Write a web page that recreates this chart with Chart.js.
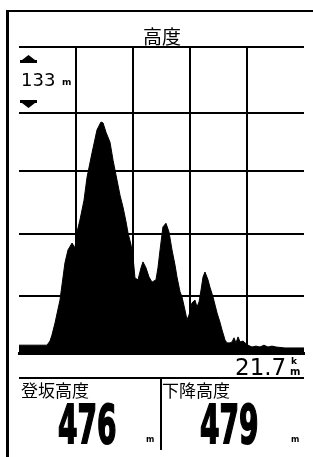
<!DOCTYPE html>
<html>
<head>
<meta charset="utf-8">
<script src="https://cdn.jsdelivr.net/npm/chart.js@4.4.1/dist/chart.umd.min.js"></script>
<style>
  body { margin: 0; background: #fff; }
  #wrap { position: relative; width: 313px; height: 457px; overflow: hidden; background: #fff; }
  #wrap canvas { position: absolute; left: 0; top: 0; }
  .ln { position: absolute; background: #000; }
  .t { position: absolute; line-height: 1; color: #000; white-space: nowrap; }
  .cjk { font-family: "Noto Sans CJK JP", sans-serif; }
  .dv { font-family: "DejaVu Sans", sans-serif; }
  .big { font-family: "DejaVu Sans", sans-serif; font-weight: bold; font-size: 54px;
         -webkit-text-stroke: 2px #000;
         transform: scaleX(0.52); transform-origin: 0 0; }
  .unit { font-family: "DejaVu Sans", sans-serif; font-weight: bold; }
</style>
</head>
<body>
<div id="wrap">
  <canvas id="elevChart" width="313" height="457"></canvas>

  <!-- device frame and cell lines -->
  <div class="ln" style="left:6px;top:10px;width:3px;height:447px"></div>
  <div class="ln" style="left:6px;top:10px;width:307px;height:2px"></div>
  <div class="ln" style="left:19px;top:377px;width:285px;height:2px"></div>
  <div class="ln" style="left:160px;top:377px;width:2px;height:73px"></div>

  <div class="t cjk" id="title" style="left:143px;top:26px;font-size:19px"></div>
  <div class="t dv" id="scaleVal" style="left:21px;top:71px;font-size:18px"></div>
  <div class="t unit" style="left:62px;top:78px;font-size:9px">m</div>

  <div class="t dv" id="distVal" style="left:235px;top:356px;font-size:23px"></div>
  <div class="t unit" style="left:291px;top:357px;font-size:9px">k</div>
  <div class="t unit" style="left:290px;top:367px;font-size:10px">m</div>

  <div class="t cjk" id="ascLabel" style="left:21px;top:381px;font-size:17px"></div>
  <div class="t cjk" id="descLabel" style="left:162px;top:381px;font-size:17px"></div>
  <div class="t big" id="ascVal" style="left:58px;top:398px"></div>
  <div class="t big" id="descVal" style="left:200px;top:398px"></div>
  <div class="t unit" style="left:146px;top:436px;font-size:8px">m</div>
  <div class="t unit" style="left:291px;top:436px;font-size:8px">m</div>
</div>

<script>
// elevation profile (km along route, metres above start level)
const distKm = [0.00, 2.13, 2.36, 2.51, 2.74, 3.12, 3.50, 3.73, 4.04, 4.26, 4.42, 4.64, 4.95, 5.18, 5.56,
  5.94, 6.24, 6.40, 6.62, 6.93, 7.16, 7.46, 7.69, 7.92, 8.15, 8.30, 8.53, 8.68, 8.83, 9.06, 9.29, 9.44,
  9.67, 9.90, 10.13, 10.43, 10.58, 10.74, 10.96, 11.19, 11.42, 11.65, 11.88, 12.03, 12.26, 12.41, 12.64,
  12.79, 12.95, 13.17, 13.40, 13.55, 13.71, 13.86, 14.01, 14.16, 14.39, 14.54, 14.77, 15.08, 15.30,
  15.46, 15.69, 15.84, 16.07, 16.22, 16.37, 16.52, 16.68, 16.83, 17.06, 17.21, 17.44, 17.74, 18.04,
  18.35, 18.65, 18.96, 19.26, 19.57, 20.25, 21.01, 21.70];
const elevM = [17, 17, 26, 39, 65, 115, 196, 224, 239, 228, 263, 289, 332, 382, 435,
  485, 502, 500, 480, 458, 419, 376, 343, 317, 285, 261, 235, 209, 163, 159, 185, 198,
  185, 165, 154, 159, 185, 224, 274, 282, 263, 224, 191, 165, 133, 122, 93,
  72, 83, 109, 115, 100, 111, 137, 165, 176, 159, 143, 122, 87, 67,
  50, 28, 22, 22, 24, 33, 22, 35, 24, 26, 22, 17, 13, 15,
  13, 17, 13, 15, 13, 11, 11, 11];

// grid positions (5 columns across the route, rows as drawn on the device)
const xGridKm = [4.34, 8.68, 13.02, 17.36];
const yGridM = [0, 124, 259, 396, 522, 665];
const yMaxM = 665;

// labels and summary numbers
const titleText = '高度';
const gridStepM = 133;
const totalKm = 21.7;
const ascLabel = '登坂高度';
const descLabel = '下降高度';
const ascentM = 476;
const descentM = 479;

document.getElementById('title').textContent = titleText;
document.getElementById('scaleVal').textContent = gridStepM;
document.getElementById('distVal').textContent = totalKm.toFixed(1);
document.getElementById('ascLabel').textContent = ascLabel;
document.getElementById('descLabel').textContent = descLabel;
document.getElementById('ascVal').textContent = ascentM;
document.getElementById('descVal').textContent = descentM;

// the little zoom arrows in the top-left cell
const arrows = {
  id: 'arrows',
  afterDraw(chart) {
    const ctx = chart.ctx;
    ctx.save();
    ctx.fillStyle = '#000';
    ctx.beginPath();
    ctx.moveTo(28.5, 55); ctx.lineTo(35, 60); ctx.lineTo(22, 60); ctx.closePath();
    ctx.fill();
    ctx.fillRect(20, 60, 17, 3);
    ctx.fillRect(20, 100, 17, 3);
    ctx.beginPath();
    ctx.moveTo(22, 103); ctx.lineTo(35, 103); ctx.lineTo(28.5, 108); ctx.closePath();
    ctx.fill();
    ctx.restore();
  }
};

new Chart(document.getElementById('elevChart'), {
  type: 'line',
  data: {
    datasets: [{
      data: distKm.map((d, i) => ({ x: d, y: elevM[i] })),
      fill: 'origin',
      backgroundColor: '#000',
      borderColor: '#000',
      borderWidth: 1,
      pointRadius: 0,
      tension: 0
    }]
  },
  options: {
    responsive: false,
    animation: false,
    events: [],
    layout: { padding: { left: 19, right: 9, top: 47, bottom: 104 } },
    plugins: { legend: { display: false }, tooltip: { enabled: false } },
    scales: {
      x: {
        type: 'linear',
        min: 0,
        max: totalKm,
        afterBuildTicks: (s) => { s.ticks = xGridKm.map(v => ({ value: v })); },
        ticks: { display: false },
        grid: { color: '#000', lineWidth: 2, drawTicks: false },
        border: { display: true, color: '#000', width: 3 }
      },
      y: {
        min: 0,
        max: yMaxM,
        afterBuildTicks: (s) => { s.ticks = yGridM.map(v => ({ value: v })); },
        ticks: { display: false },
        grid: { color: '#000', lineWidth: 2, drawTicks: false },
        border: { display: false }
      }
    }
  },
  plugins: [arrows]
});
</script>
</body>
</html>
